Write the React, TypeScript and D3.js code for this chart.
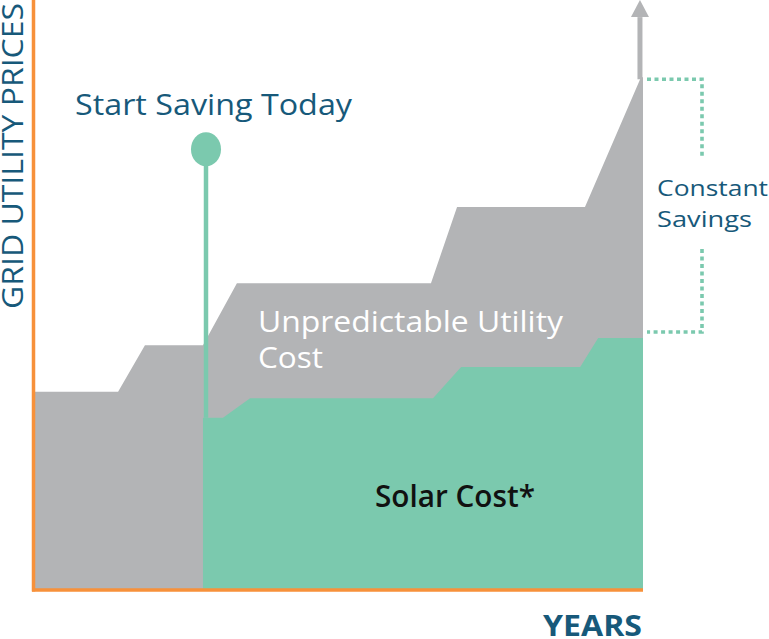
import React from "react";
import * as d3 from "d3";

// Years (x) and price index (y)
const utilityYears = [0, 3.28, 4.34, 6.63, 7.97, 15.63, 16.66, 21.71, 23.92];
const utilityPrice = [33.6, 33.6, 41.5, 41.5, 52.0, 52.0, 64.9, 64.9, 86.9];
const solarYears = [6.63, 7.42, 8.49, 15.71, 16.82, 21.52, 22.23, 24];
const solarPrice = [29.2, 29.2, 32.5, 32.5, 37.8, 37.8, 42.7, 42.7];
const startYear = 6.75;
const startMarker = 74.7;

const W = 769;
const H = 639;
const GRAY = "#b3b4b6";
const GREEN = "#7bc9ae";
const ORANGE = "#f7913a";
const BLUE = "#17597a";
const FONT = "'Open Sans', Lato, sans-serif";

export default function App() {
  const x = d3.scaleLinear().domain([0, 24]).range([35, 643]);
  const y = d3.scaleLinear().domain([0, 100]).range([590, 0]);

  const uPts: [number, number][] = utilityYears.map((t, i) => [t, utilityPrice[i]]);
  const lastU = uPts[uPts.length - 1];
  const uArea = d3
    .area<[number, number]>()
    .x((d) => x(d[0]))
    .y0(y(0))
    .y1((d) => y(d[1]))([...uPts, [24, lastU[1]]]);

  const sPts: [number, number][] = solarYears.map((t, i) => [t, solarPrice[i]]);
  const sArea = d3
    .area<[number, number]>()
    .x((d) => x(d[0]))
    .y0(y(0))
    .y1((d) => y(d[1]))(sPts);

  const arrowX = x(23.88);
  const tipY = y(100);
  const headBase = y(97.1);

  const bx0 = x(24) + 4;
  const bx1 = x(24) + 59;
  const bTop = y(lastU[1]) + 2;
  const bBot = y(solarPrice[solarPrice.length - 1]) - 6;

  const sx = x(startYear);
  const sy = y(startMarker);

  return (
    <svg
      width={W}
      height={H}
      style={{ position: "absolute", left: 0, top: 0, background: "#fff" }}
      fontFamily={FONT}
    >
      <rect width={W} height={H} fill="#fff" />
      <path d={uArea || ""} fill={GRAY} />
      {/* arrow */}
      <line x1={arrowX} x2={arrowX} y1={y(lastU[1]) + 2} y2={headBase} stroke={GRAY} strokeWidth={5} />
      <path d={`M${arrowX - 9},${headBase} L${arrowX},${tipY} L${arrowX + 9},${headBase} Z`} fill={GRAY} />
      <path d={sArea || ""} fill={GREEN} />
      {/* start marker */}
      <line x1={sx} x2={sx} y1={sy} y2={y(solarPrice[0])} stroke={GREEN} strokeWidth={4.5} />
      <ellipse cx={sx} cy={sy} rx={15} ry={17} fill={GREEN} />
      {/* bracket */}
      <path
        d={`M${bx0},${bTop} H${bx1} V${y(73.2)}`}
        fill="none"
        stroke={GREEN}
        strokeWidth={3.6}
        strokeDasharray="4 3.5"
      />
      <path
        d={`M${bx1},${y(57.8)} V${bBot} H${bx0}`}
        fill="none"
        stroke={GREEN}
        strokeWidth={3.6}
        strokeDasharray="4 3.5"
      />
      {/* axes */}
      <line x1={33.5} x2={33.5} y1={0} y2={591.5} stroke={ORANGE} strokeWidth={3.5} />
      <line x1={32} x2={x(24)} y1={590} y2={590} stroke={ORANGE} strokeWidth={3.5} />
      {/* texts */}
      <text
        transform={`translate(22.5,309) rotate(-90)`}
        fontSize={30}
        fill={BLUE}
        textLength={306}
        lengthAdjust="spacingAndGlyphs"
      >
        GRID UTILITY PRICES
      </text>
      <text x={75} y={115} fontSize={30} fill={BLUE} textLength={277} lengthAdjust="spacingAndGlyphs">
        Start Saving Today
      </text>
      <text fontSize={30} fill="#fff">
        <tspan x={258} y={332} textLength={305} lengthAdjust="spacingAndGlyphs">
          Unpredictable Utility
        </tspan>
        <tspan x={258} y={367.5} textLength={65} lengthAdjust="spacingAndGlyphs">
          Cost
        </tspan>
      </text>
      <text x={375} y={506.5} fontSize={30} fill="#111" fontWeight={600} textLength={160} lengthAdjust="spacingAndGlyphs">
        Solar Cost*
      </text>
      <text fontSize={22} fill={BLUE}>
        <tspan x={657} y={196} textLength={111} lengthAdjust="spacingAndGlyphs">
          Constant
        </tspan>
        <tspan x={657} y={226.5} textLength={95} lengthAdjust="spacingAndGlyphs">
          Savings
        </tspan>
      </text>
      <text x={543} y={636} fontSize={28} fontWeight={700} fill={BLUE} textLength={99} lengthAdjust="spacingAndGlyphs">
        YEARS
      </text>
    </svg>
  );
}
